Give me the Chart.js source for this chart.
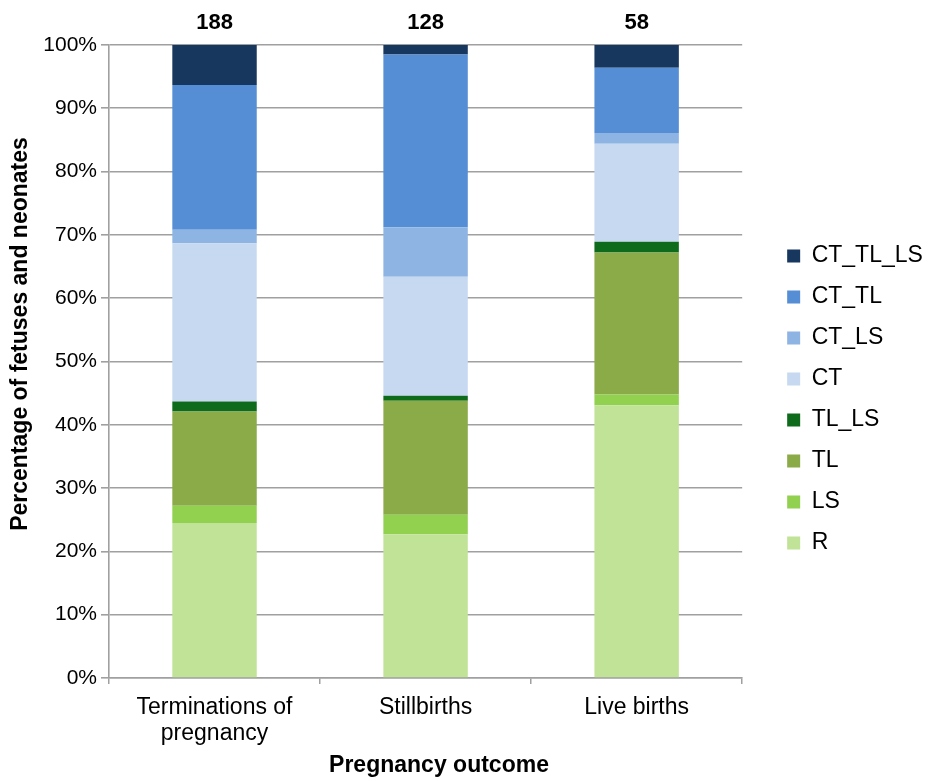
<!DOCTYPE html>
<html>
<head>
<meta charset="utf-8">
<script src="https://cdn.jsdelivr.net/npm/chart.js@4"></script>
<style>
  html, body { margin: 0; padding: 0; background: #fff; }
  #wrap { width: 929px; height: 781px; position: relative; }
</style>
</head>
<body>
<div id="wrap"><canvas id="outcomeChart"></canvas></div>
<script>
// Categories and totals shown above the bars
const outcomes = [['Terminations of', 'pregnancy'], 'Stillbirths', 'Live births'];
const totals = ['188', '128', '58'];
const yTicks = [0, 10, 20, 30, 40, 50, 60, 70, 80, 90, 100];

// Percentage of cases per outcome, bottom segment first
const R = [24.5, 22.7, 43.1];
const LS = [2.7, 3.1, 1.7];
const TL = [14.9, 18.0, 22.4];
const TL_LS = [1.6, 0.8, 1.7];
const CT = [25.0, 18.8, 15.5];
const CT_LS = [2.1, 7.8, 1.7];
const CT_TL = [22.9, 27.3, 10.3];
const CT_TL_LS = [6.3, 1.5, 3.6];

const seriesNames = ['R', 'LS', 'TL', 'TL_LS', 'CT', 'CT_LS', 'CT_TL', 'CT_TL_LS'];
const seriesValues = [R, LS, TL, TL_LS, CT, CT_LS, CT_TL, CT_TL_LS];
const seriesColors = ['#c0e397', '#92d050', '#8aab48', '#0e6b1c', '#c6d9f0', '#8eb4e3', '#558ed5', '#17375e'];

const FONT = "'Liberation Sans', Arial, Helvetica, sans-serif";
const GRID = '#a0a0a0';

// Axis titles and bar totals drawn by hand so they sit where the original has them
const extraText = {
  id: 'extraText',
  afterDraw(chart) {
    const ctx = chart.ctx;
    const xScale = chart.scales.x;
    ctx.save();
    ctx.fillStyle = '#000';
    ctx.textAlign = 'center';
    ctx.textBaseline = 'middle';

    ctx.font = 'bold 22px ' + FONT;
    totals.forEach((t, i) => {
      ctx.fillText(t, xScale.getPixelForValue(i), chart.chartArea.top - 22);
    });

    ctx.font = 'bold 23px ' + FONT;
    ctx.fillText('Pregnancy outcome', 439, 766);
    ctx.translate(21, 334);
    ctx.rotate(-Math.PI / 2);
    ctx.fillText('Percentage of fetuses and neonates', 0, 0);
    ctx.restore();
  }
};

const datasets = seriesNames.map((name, i) => ({
  label: name,
  data: seriesValues[i],
  backgroundColor: seriesColors[i],
  borderWidth: 0,
  barPercentage: 0.4,
  categoryPercentage: 1.0
}));

new Chart(document.getElementById('outcomeChart'), {
  type: 'bar',
  data: { labels: outcomes, datasets: datasets },
  plugins: [extraText],
  options: {
    responsive: true,
    maintainAspectRatio: false,
    animation: false,
    layout: { padding: { top: 18, right: 6, bottom: 0, left: 0 } },
    plugins: {
      title: { display: false },
      tooltip: { enabled: false },
      legend: {
        position: 'right',
        reverse: true,
        labels: {
          boxWidth: 13,
          boxHeight: 13,
          padding: 18,
          color: '#000',
          font: { family: FONT, size: 23 }
        }
      }
    },
    scales: {
      x: {
        stacked: true,
        afterFit: s => { s.height = 103; },
        grid: { display: true, drawOnChartArea: false, drawTicks: true, tickLength: 6, color: GRID, lineWidth: 1.5 },
        border: { color: GRID, width: 1.5 },
        ticks: {
          color: '#000',
          padding: 10,
          maxRotation: 0,
          autoSkip: false,
          font: { family: FONT, size: 23, lineHeight: 1.16 }
        }
      },
      xTop: {
        type: 'linear',
        position: 'top',
        afterFit: s => { s.height = 27; },
        grid: { display: false, drawTicks: false },
        border: { display: false },
        ticks: { display: false }
      },
      y: {
        stacked: true,
        min: 0,
        max: 100,
        afterFit: s => { s.width = 109; },
        afterBuildTicks: s => { s.ticks = yTicks.map(v => ({ value: v })); },
        grid: { color: GRID, lineWidth: 1.6, tickLength: 8 },
        border: { color: GRID, width: 1.6 },
        ticks: {
          color: '#000',
          padding: 4,
          font: { family: FONT, size: 21 },
          callback: v => v + '%'
        }
      },
      yGap: {
        type: 'linear',
        position: 'right',
        afterFit: s => { s.width = 27; },
        grid: { display: false, drawTicks: false },
        border: { display: false },
        ticks: { display: false }
      }
    }
  }
});
</script>
</body>
</html>
